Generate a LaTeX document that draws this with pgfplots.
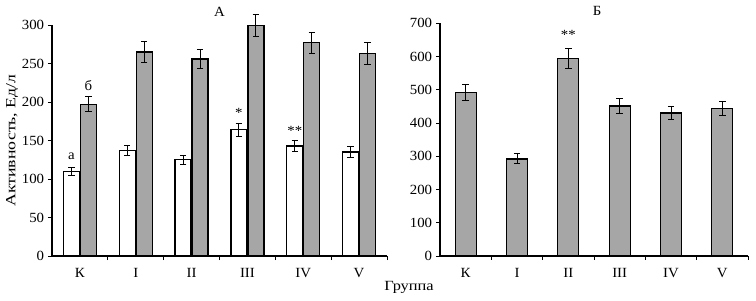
\documentclass[border=0pt]{standalone}
\usepackage{fontspec}
\setmainfont{Liberation Serif}[FakeStretch=1.06]
\newfontfamily\cyrwide{Liberation Serif}[FakeStretch=1.27]
\newfontfamily\cyrmid{Liberation Serif}[FakeStretch=1.17]
\usepackage{pgfplots}
\pgfplotsset{compat=1.18}
\definecolor{barg}{RGB}{166,166,166}
\newcommand\ff{\fontsize{14bp}{16bp}\selectfont}
\begin{document}
\ff
\begin{tikzpicture}[font=\ff]
\path[use as bounding box] (0,0) rectangle (756bp,301bp);
\pgfplotsset{
  common/.style={
    scale only axis,
    font=\ff,
    axis lines*=left,
    axis line style={line width=1.1pt},
    /pgf/number format/assume math mode=true,
    ymin=0,
    xmin=-0.5, xmax=5.5,
    tick align=outside,
    major tick length=4bp,
    tick style={line width=1pt, black},
    xtick={0.5,1.5,...,5.5},
    xticklabels={},
    extra x ticks={0,1,2,3,4,5},
    extra x tick labels={К,I,II,III,IV,V},
    extra x tick style={tick style={draw=none}},
    xticklabel style={yshift=-3bp},
    yticklabel style={xshift=1bp},
    clip=false,
    error bars/error bar style={line width=1pt},
    error bars/error mark options={rotate=90, mark size=3.2bp, line width=1pt},
  },
}
\begin{axis}[common,
  at={(52bp,45bp)}, anchor=south west,
  width=335bp, height=231bp,
  ymax=300, ytick={0,50,...,300},
  ylabel={\cyrwide Активность, Ед/л},
  ylabel style={at={(axis description cs:-0.119,0.5)}, anchor=center, rotate=0},
]
\addplot[ybar, bar width=16bp, bar shift=0pt, draw=black, line width=1.25pt, fill=white,
  error bars/.cd, y dir=both, y explicit]
  coordinates {(-0.152,110) +- (0,5) (0.848,137) +- (0,7) (1.848,125) +- (0,6) (2.848,164) +- (0,8.5) (3.848,143) +- (0,7) (4.848,135) +- (0,7.5)};
\addplot[ybar, bar width=16bp, bar shift=0pt, draw=black, line width=1.25pt, fill=barg,
  error bars/.cd, y dir=both, y explicit]
  coordinates {(0.152,197) +- (0,9.5) (1.152,265) +- (0,14) (2.152,256) +- (0,12.5) (3.152,299) +- (0,14) (4.152,277) +- (0,13.5) (5.152,263) +- (0,14)};
\node at (axis cs:-0.152,129) {а};
\node at (axis cs:0.152,222) {б};
\node at (axis cs:2.848,186) {*};
\node at (axis cs:3.848,162) {**};
\node at (rel axis cs:0.5,1) [yshift=13bp] {А};
\end{axis}
\begin{axis}[common,
  at={(440bp,45bp)}, anchor=south west,
  width=308bp, height=232.7bp,
  ymax=700, ytick={0,100,...,700},
]
\addplot[ybar, bar width=21bp, draw=black, line width=1.25pt, fill=barg,
  error bars/.cd, y dir=both, y explicit]
  coordinates {(0,492) +- (0,23) (1,292) +- (0,15) (2,593) +- (0,30) (3,451) +- (0,23) (4,430) +- (0,20) (5,444) +- (0,21)};
\node at (axis cs:2,665) {**};
\node at (rel axis cs:0.51,1) [yshift=12bp] {Б};
\end{axis}
\node at (409bp,14bp) {\cyrmid Группа};
\end{tikzpicture}
\end{document}
